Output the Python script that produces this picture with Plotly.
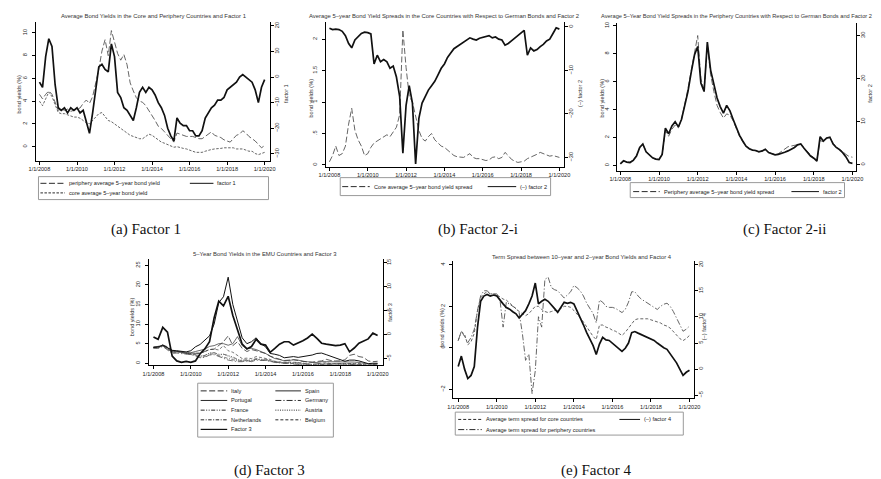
import pandas as pd
import plotly.graph_objects as go

W, H = 881, 479

# ---------------- shared axes ----------------
DATES_2M = pd.date_range("2008-01-01", "2020-01-01", freq="2MS")   # bimonthly
DATES_Q = pd.date_range("2008-01-01", "2020-01-01", freq="QS")     # quarterly
XTICK_VALS = ["2008-01-01", "2010-01-01", "2012-01-01", "2014-01-01",
              "2016-01-01", "2018-01-01", "2020-01-01"]
XTICK_TEXT = ["1/1/2008", "1/1/2010", "1/1/2012", "1/1/2014",
              "1/1/2016", "1/1/2018", "1/1/2020"]

# ---------------- panel (a) ----------------
PERIPHERY_YIELD = [
    4.6, 4.2, 4.6, 4.9, 4.6, 3.8,
    3.2, 3.3, 3.2, 3.3, 3.1, 3.2,
    3.3, 3.4, 3.8, 4.1, 3.8, 4.4,
    5.6, 6.8, 8.4, 9.4, 8.0, 10.2,
    9.2, 8.2, 7.6, 8.1, 7.2, 5.6,
    4.9, 4.3, 4.0, 3.9, 3.6, 3.2,
    2.8, 2.3, 1.8, 1.6, 1.3, 1.0,
    0.7, 0.4, 1.2, 1.1, 1.0, 0.9,
    0.9, 0.9, 0.8, 0.7, 0.7, 0.9,
    1.1, 1.3, 1.0, 0.9, 0.8, 0.6,
    0.5, 0.4, 0.7, 1.0, 1.1, 1.4,
    1.2, 0.9, 0.7, 0.5, 0.2, -0.1,
    0.1]
CORE_YIELD = [
    4.0, 3.6, 4.2, 4.8, 4.4, 3.6,
    3.0, 2.9, 2.9, 2.8, 2.7, 2.6,
    2.6, 2.5, 2.3, 2.1, 2.0, 2.3,
    2.6, 2.9, 3.0, 2.7, 2.3, 2.2,
    2.0, 1.8, 1.6, 1.4, 1.2, 1.0,
    0.9, 0.8, 0.7, 0.7, 0.9, 1.1,
    1.0, 0.8, 0.6, 0.4, 0.3, 0.2,
    0.1, -0.05, 0.0, -0.1, -0.15, -0.2,
    -0.3, -0.4, -0.5, -0.5, -0.5, -0.4,
    -0.3, -0.25, -0.2, -0.2, -0.15, -0.1,
    -0.1, -0.15, -0.1, -0.2, -0.2, -0.2,
    -0.3, -0.4, -0.4, -0.6, -0.7, -0.6,
    -0.5]
FACTOR1 = [
    -2, -4, 8, 15, 12, -3,
    -12, -13, -12, -14, -12, -13,
    -12, -14, -13, -17, -22, -14,
    -4, 4, 5, 3, 2, 13,
    8, -6, -8, -12, -13, -15,
    -17, -12, -6, -4, -6, -4,
    -5, -7, -10, -12, -15, -20,
    -23, -25, -16, -18, -19, -19,
    -21, -21, -23, -23, -21, -16,
    -14, -12, -11, -9, -9, -8,
    -5, -4, -3, -2, 0, 1,
    0, -1, -2, -5, -10, -4,
    -1]

# ---------------- panel (b) ----------------
CORE_SPREAD = [
    0.05, 0.15, 0.30, 0.15, 0.18, 0.30,
    0.65, 0.90, 0.55, 0.40, 0.30, 0.15,
    0.18, 0.28, 0.35, 0.38, 0.42, 0.45,
    0.48, 0.45, 0.52, 0.60, 0.80, 2.15,
    1.55, 1.10, 1.00, 0.80, 0.55, 0.42,
    0.38, 0.45, 0.50, 0.40, 0.35, 0.30,
    0.28, 0.24, 0.20, 0.15, 0.13, 0.12,
    0.12, 0.15, 0.18, 0.12, 0.10, 0.10,
    0.08, 0.07, 0.08, 0.12, 0.13, 0.10,
    0.12, 0.20, 0.15, 0.09, 0.06, 0.04,
    0.05, 0.06, 0.10, 0.12, 0.15, 0.17,
    0.20, 0.18, 0.15, 0.14, 0.15, 0.13,
    0.12]
NEG_FACTOR2_CORE = [
    -0.3, -0.6, -0.5, -0.6, -1.0, -2.0,
    -3.8, -4.8, -3.0, -2.2, -1.5, -1.2,
    -1.3, -1.6, -8.5, -6.5, -8.0, -7.5,
    -8.0, -9.5, -9.0, -11.5, -16.0, -29.0,
    -18.0, -13.5, -17.5, -31.5, -21.0, -17.5,
    -16.0, -14.5, -13.5, -12.5, -11.0, -9.5,
    -8.5, -7.0, -6.0, -5.0, -4.5, -4.0,
    -3.5, -3.0, -2.5, -2.8, -3.0, -2.6,
    -2.4, -2.2, -2.0, -2.5, -2.3, -2.8,
    -3.0, -4.2, -3.8, -3.2, -2.6, -2.0,
    -1.5, -0.8, -6.5, -4.8, -5.5, -5.2,
    -4.5, -4.0, -3.2, -2.8, -1.5, -0.2,
    -0.5]

# ---------------- panel (c) ----------------
PERIPHERY_SPREAD = [
    0.15, 0.35, 0.25, 0.25, 0.40, 0.70,
    1.30, 1.55, 1.00, 0.75, 0.55, 0.45,
    0.45, 0.80, 2.50, 2.10, 2.60, 2.90,
    2.70, 3.30, 4.30, 5.50, 6.80, 8.20,
    9.30, 6.20, 5.40, 8.60, 6.50, 5.30,
    4.30, 3.80, 3.40, 3.70, 3.60, 3.20,
    2.60, 2.10, 1.70, 1.40, 1.20, 1.10,
    1.05, 1.00, 1.00, 1.15, 0.95, 0.85,
    0.80, 0.85, 1.00, 1.20, 1.35, 1.40,
    1.45, 1.55, 1.55, 1.25, 1.00, 0.75,
    0.55, 0.40, 1.80, 1.70, 1.95, 2.00,
    1.60, 1.35, 1.20, 1.00, 0.80, 0.65,
    0.60]
FACTOR2 = [
    0.2, 0.9, 0.6, 0.5, 1.0, 2.0,
    4.0, 4.8, 3.0, 2.2, 1.6, 1.3,
    1.2, 2.4, 8.5, 7.2, 9.0, 10.0,
    8.8, 10.5, 13.5, 17.0, 21.5, 25.5,
    27.5, 19.0, 17.0, 28.5, 22.0, 18.5,
    15.5, 13.5, 12.0, 13.8, 12.5, 10.5,
    8.5, 6.8, 5.5, 4.3, 3.7, 3.4,
    3.3, 3.0, 3.2, 3.6, 2.8, 2.5,
    2.3, 2.4, 2.6, 2.9, 3.2, 3.6,
    4.0, 4.6, 4.8, 3.8, 3.0, 2.0,
    1.5, 0.8, 6.5, 5.5, 6.2, 6.4,
    4.8, 4.0, 3.5, 2.8, 1.8, 0.5,
    0.3]

# ---------------- panel (d) (quarterly) ----------------
ITALY = [
    4.2, 4.3, 4.7, 4.2,
    3.3, 3.0, 2.9, 2.6,
    2.5, 2.5, 2.6, 3.0,
    3.5, 3.6, 4.5, 5.5,
    7.0, 4.5, 5.5, 3.8,
    3.0, 3.5, 3.2, 2.8,
    2.5, 1.8, 1.3, 1.0,
    0.7, 0.8, 0.9, 0.7,
    0.5, 0.3, 0.3, 0.5,
    0.6, 1.0, 0.7, 0.6,
    0.6, 0.9, 2.0, 2.3,
    1.7, 1.5, 0.6, 0.4,
    0.5]
SPAIN = [
    3.9, 4.1, 4.6, 4.0,
    3.1, 3.0, 2.9, 2.6,
    2.7, 3.0, 3.3, 3.6,
    4.3, 4.5, 5.0, 5.0,
    4.6, 5.0, 6.8, 4.5,
    3.8, 3.8, 3.5, 3.0,
    2.5, 1.8, 1.2, 1.0,
    0.6, 0.7, 0.9, 0.8,
    0.5, 0.4, 0.2, 0.2,
    0.4, 0.4, 0.4, 0.3,
    0.4, 0.3, 0.4, 0.3,
    0.2, 0.0, -0.2, -0.2,
    -0.1]
PORTUGAL = [
    4.0, 4.2, 4.6, 4.0,
    3.3, 3.2, 3.0, 2.9,
    3.2, 4.2, 4.8, 6.0,
    7.0, 10.0, 15.5, 17.0,
    22.0, 15.0, 11.0, 6.5,
    5.0, 5.5, 6.5, 5.0,
    4.2, 2.5, 2.3, 2.0,
    1.4, 1.5, 1.7, 1.5,
    1.7, 2.0, 2.1, 2.5,
    2.6, 2.2, 1.8, 1.3,
    0.9, 0.5, 0.8, 0.8,
    0.6, 0.2, -0.1, 0.0,
    0.0]
GERMANY = [
    3.9, 3.8, 4.3, 3.5,
    2.5, 2.6, 2.5, 2.3,
    2.2, 1.9, 1.4, 1.5,
    2.1, 2.2, 1.7, 1.2,
    0.8, 0.6, 0.4, 0.4,
    0.6, 0.4, 0.8, 0.7,
    0.7, 0.5, 0.2, 0.1,
    0.0, 0.0, -0.1, -0.2,
    -0.3, -0.4, -0.6, -0.5,
    -0.4, -0.4, -0.3, -0.2,
    -0.2, -0.2, -0.3, -0.3,
    -0.4, -0.5, -0.8, -0.6,
    -0.5]
FRANCE = [
    4.0, 3.9, 4.4, 3.7,
    2.8, 2.8, 2.8, 2.5,
    2.4, 2.2, 1.8, 2.0,
    2.6, 2.7, 2.3, 2.3,
    2.0, 1.6, 1.0, 0.8,
    0.9, 0.8, 1.2, 1.0,
    1.0, 0.8, 0.4, 0.3,
    0.1, 0.2, 0.2, 0.1,
    0.0, -0.2, -0.3, -0.1,
    0.0, 0.0, -0.1, -0.1,
    0.0, -0.1, -0.1, -0.1,
    -0.2, -0.3, -0.5, -0.4,
    -0.3]
AUSTRIA = [
    4.0, 4.0, 4.5, 3.8,
    3.0, 3.0, 2.8, 2.6,
    2.5, 2.3, 1.8, 2.0,
    2.6, 2.7, 2.1, 2.3,
    1.8, 1.3, 0.8, 0.6,
    0.7, 0.6, 1.0, 0.8,
    0.8, 0.6, 0.3, 0.2,
    0.0, 0.1, 0.1, 0.0,
    -0.1, -0.2, -0.4, -0.3,
    -0.2, -0.2, -0.2, -0.1,
    -0.1, -0.1, -0.2, -0.2,
    -0.3, -0.4, -0.6, -0.5,
    -0.4]
NETHERLANDS = [
    4.0, 3.9, 4.4, 3.7,
    2.8, 2.9, 2.7, 2.4,
    2.3, 2.0, 1.5, 1.7,
    2.3, 2.4, 1.9, 1.5,
    1.1, 0.9, 0.6, 0.6,
    0.7, 0.6, 1.0, 0.9,
    0.8, 0.6, 0.3, 0.1,
    0.0, 0.0, -0.1, -0.1,
    -0.2, -0.3, -0.5, -0.4,
    -0.3, -0.3, -0.2, -0.2,
    -0.2, -0.2, -0.2, -0.3,
    -0.3, -0.4, -0.7, -0.5,
    -0.4]
BELGIUM = [
    4.1, 4.1, 4.6, 4.0,
    3.2, 3.1, 2.9, 2.6,
    2.6, 2.5, 2.5, 3.0,
    3.5, 3.6, 3.4, 4.5,
    3.2, 2.8, 2.0, 1.2,
    1.3, 1.2, 1.7, 1.5,
    1.3, 1.0, 0.5, 0.4,
    0.2, 0.3, 0.3, 0.2,
    0.0, -0.1, -0.3, -0.1,
    0.0, 0.1, -0.1, -0.1,
    0.0, 0.0, 0.0, 0.0,
    -0.1, -0.2, -0.5, -0.3,
    -0.2]
FACTOR3 = [
    -0.5, -1.0, 1.5, 0.5,
    -4.5, -5.5, -5.8, -5.6,
    -5.8, -5.5, -4.0, -3.0,
    -1.5, 3.5, 7.0, 6.0,
    8.0, 4.0, 1.0, -2.0,
    -3.0, -2.5, -1.0, -2.0,
    -2.2, -3.7, -2.9, -2.0,
    -1.5, -1.5, -2.2, -1.8,
    -1.3, -0.7, 0.1, -0.8,
    -1.8, -2.0, -2.1, -2.3,
    -2.2, -1.9, -3.6, -2.8,
    -1.8, -1.3, -0.9, 0.3,
    -0.2]

# ---------------- panel (e) ----------------
CORE_TERM = [
    0.35, 0.80, 0.65, 0.15, 0.30, 0.70,
    1.80, 2.40, 2.60, 2.70, 2.60, 2.60,
    2.55, 2.45, 2.35, 2.30, 2.15, 2.00,
    1.90, 1.75, 1.65, 1.55, 1.65, 1.80,
    2.00, 2.00, 1.85, 1.75, 1.70, 1.75,
    1.80, 1.80, 1.90, 2.00, 2.00, 1.95,
    1.80, 1.65, 1.45, 1.25, 1.00, 0.80,
    0.55, 0.40, 1.10, 1.10, 1.00, 0.95,
    0.85, 0.80, 0.70, 0.60, 0.75, 0.95,
    1.15, 1.35, 1.40, 1.40, 1.40, 1.40,
    1.35, 1.30, 1.25, 1.20, 1.10, 1.05,
    0.95, 0.80, 0.65, 0.45, 0.35, 0.45,
    0.60]
PERIPHERY_TERM = [
    0.35, 0.80, 0.55, 0.25, 0.50, 0.90,
    1.80, 2.50, 2.75, 2.75, 2.60, 2.60,
    2.60, 2.35, 1.00, 2.20, 2.10, 2.00,
    1.90, 1.70, 0.70, -0.60, -0.30, -2.20,
    -1.10, 1.50, 1.00, 3.30, 3.40, 2.90,
    2.80, 2.75, 2.55, 2.40, 2.55, 2.70,
    3.00, 2.90, 2.75, 2.50, 2.15, 1.90,
    1.65, 1.20, 2.30, 2.20, 2.00, 1.95,
    1.95, 1.90, 1.80, 1.70, 1.85, 2.20,
    2.70, 2.70, 2.50, 2.35, 2.25, 2.15,
    2.05, 1.95, 1.85, 2.00, 2.10, 2.15,
    2.00, 1.75, 1.45, 1.10, 0.80, 0.90,
    1.05]
NEG_FACTOR4 = [
    0.5, 2.5, 0.0, -1.8, -1.2, 0.5,
    8.0, 13.0, 14.0, 14.3, 14.0, 14.2,
    14.0, 13.2, 12.5, 11.8, 11.5, 11.0,
    10.6, 9.8, 10.5, 11.2, 12.5, 14.0,
    16.5, 12.5, 13.0, 13.4, 13.0, 12.2,
    11.6, 10.9, 11.8, 12.8, 12.6, 12.8,
    12.5, 11.3, 10.0, 8.5, 7.0, 5.8,
    4.5, 2.8, 4.8, 6.1, 5.6, 5.5,
    5.0, 4.5, 4.0, 3.4, 4.0, 5.0,
    7.0, 7.2, 6.9, 6.6, 6.3, 6.0,
    5.8, 5.5, 5.0, 4.5, 4.1, 3.8,
    3.0, 2.2, 1.2, 0.0, -1.2, -0.6,
    -0.2]

for arr in [PERIPHERY_YIELD, CORE_YIELD, FACTOR1, CORE_SPREAD, NEG_FACTOR2_CORE,
            PERIPHERY_SPREAD, FACTOR2, CORE_TERM, PERIPHERY_TERM, NEG_FACTOR4]:
    assert len(arr) == len(DATES_2M), len(arr)
for arr in [ITALY, SPAIN, PORTUGAL, GERMANY, FRANCE, AUSTRIA, NETHERLANDS, BELGIUM, FACTOR3]:
    assert len(arr) == len(DATES_Q), len(arr)


# ---------------- helpers ----------------
def px(x):
    return x / W


def py(y):
    return 1 - y / H


def fy(f):
    y = int(f)
    d = pd.Timestamp(f"{y}-01-01") + pd.Timedelta(days=(f - y) * 365.25)
    return d.strftime("%Y-%m-%d %H:%M")


FONT = "Liberation Sans"
TXT = "#222222"
FS = 5.6
TFS = 5.9
BLACK = "#111111"
GREY = "#555555"

# dash patterns
LONGDASH = "6px,2.5px"
SHORTDASH = "2.5px,1.5px"
DASH = "3px,2px"
LONGDASHDOT = "6px,2px,1.2px,2px"
DASHDOT = "3.5px,1.5px,1px,1.5px"
DASHDOTDOT = "4px,1.5px,1px,1.5px,1px,1.5px"
DOT = "1px,1.3px"

PANELS = [
    dict(x0=28, x1=267, y0=21, y1=160, xr=(2007.79, 2020.31),
         yl=(-1.23, 10.96), yr=(-32.7, 21.56),
         ylt=[0, 2, 4, 6, 8, 10], ylx=None, yrt=[-30, -20, -10, 0, 10, 20],
         title="Average Bond Yields in the Core and Periphery Countries and Factor 1",
         tx=148, ty=15, tanchor="center", tfs=TFS,
         lt=(11, 93), rt=(283, 93), rtitle="factor 1",
         cap="(a) Factor 1", cx=140, cy=229),
    dict(x0=323, x1=566, y0=21, y1=166, xr=(2007.795, 2020.26),
         yl=(-0.027, 2.275), yr=(-32.1, 1.15),
         ylt=[0, 0.5, 1, 1.5, 2], ylx=["0", ".5", "1", "1.5", "2"], yrt=[-30, -20, -10, 0],
         title="Average 5\u2013year Bond Yield Spreads in the Core Countries with Respect to German Bonds and Factor 2",
         tx=444, ty=15, tanchor="center", tfs=TFS,
         lt=(308, 97), rt=(582, 93), rtitle="(\u2013) factor 2",
         cap="(b) Factor 2-i", cx=478, cy=229),
    dict(x0=620, x1=863, y0=22, y1=170, xr=(2007.85, 2020.2),
         yl=(-0.36, 10.2), yr=(-1.39, 32.96),
         ylt=[0, 2, 4, 6, 8, 10], ylx=None, yrt=[0, 10, 20, 30],
         title="Average 5\u2013Year Bond Yield Spreads in the Periphery Countries with Respect to German Bonds and Factor 2",
         tx=601, ty=15, tanchor="left", tfs=5.65,
         lt=(604, 97), rt=(877, 93), rtitle="factor 2",
         cap="(c) Factor 2-ii", cx=790, cy=229),
    dict(x0=143, x1=381, y0=259, y1=365, xr=(2007.737, 2020.263),
         yl=(-0.51, 26.53), yr=(-6.4, 15.69),
         ylt=[0, 5, 10, 15, 20, 25], ylx=None, yrt=[-5, 0, 5, 10, 15],
         title="5\u2013Year Bond Yields in the EMU Countries and Factor 3",
         tx=261, ty=254, tanchor="center", tfs=TFS,
         lt=(127, 316), rt=(389, 312), rtitle="factor 3",
         cap="(d) Factor 3", cx=266, cy=470),
    dict(x0=453, x1=698, y0=261, y1=398, xr=(2007.745, 2020.24),
         yl=(-2.42, 4.16), yr=(-5.56, 20.63),
         ylt=[-2, 0, 2, 4], ylx=None, yrt=[-5, 0, 5, 10, 15, 20],
         title="Term Spread between 10\u2013year and 2\u2013year Bond Yields and Factor 4",
         tx=584, ty=257, tanchor="center", tfs=TFS,
         lt=(442, 327), rt=(708, 326), rtitle="(\u2013) factor 4",
         cap="(e) Factor 4", cx=598, cy=470),
]

fig = go.Figure()
layout = dict(width=W, height=H, margin=dict(l=0, r=0, t=0, b=0),
              paper_bgcolor="white", plot_bgcolor="white",
              font=dict(family=FONT, size=FS, color=TXT), showlegend=False)
annotations = []
shapes = []


def axnames(k):
    xk = "x" if k == 1 else f"x{k}"
    yl = "y" if k == 1 else f"y{k}"
    yr = f"y{k + 5}"
    return xk, yl, yr


def lname(ref):
    return ref[0] + "axis" + ref[1:]


tickfont = dict(family=FONT, size=FS, color=TXT)
for k, p in enumerate(PANELS, start=1):
    xk, ylk, yrk = axnames(k)
    layout[lname(xk)] = dict(
        domain=[px(p["x0"]), px(p["x1"])], anchor=ylk, type="date",
        range=[fy(p["xr"][0]), fy(p["xr"][1])],
        tickmode="array", tickvals=XTICK_VALS, ticktext=XTICK_TEXT,
        showline=True, linecolor="black", linewidth=1, mirror=False,
        ticks="outside", ticklen=3, tickwidth=0.8, tickcolor="black",
        showgrid=False, zeroline=False, tickfont=tickfont)
    yl = dict(
        domain=[py(p["y1"]), py(p["y0"])], anchor=xk, range=list(p["yl"]),
        tickmode="array", tickvals=p["ylt"], tickangle=-90,
        showline=True, linecolor="black", linewidth=1,
        ticks="outside", ticklen=3, tickwidth=0.8, tickcolor="black",
        ticklabelstandoff=2,
        showgrid=False, zeroline=False, tickfont=tickfont)
    if p["ylx"]:
        yl["ticktext"] = p["ylx"]
    layout[lname(ylk)] = yl
    layout[lname(yrk)] = dict(
        overlaying=ylk, side="right", anchor=xk, range=list(p["yr"]),
        tickmode="array", tickvals=p["yrt"], tickangle=-90,
        showline=True, linecolor="black", linewidth=1,
        ticks="outside", ticklen=3, tickwidth=0.8, tickcolor="black",
        ticklabelstandoff=-2,
        showgrid=False, zeroline=False, tickfont=tickfont)

    annotations.append(dict(x=px(p["tx"]), y=py(p["ty"]), xref="paper", yref="paper",
                            text=p["title"], showarrow=False, xanchor=p["tanchor"],
                            yanchor="middle", font=dict(size=p["tfs"], color="#333333")))
    annotations.append(dict(x=px(p["lt"][0]), y=py(p["lt"][1]), xref="paper", yref="paper",
                            text="bond yields (%)", showarrow=False, textangle=-90,
                            xanchor="center", yanchor="middle",
                            font=dict(size=FS, color="#333333")))
    annotations.append(dict(x=px(p["rt"][0]), y=py(p["rt"][1]), xref="paper", yref="paper",
                            text=p["rtitle"], showarrow=False, textangle=-90,
                            xanchor="center", yanchor="middle",
                            font=dict(size=FS, color="#333333")))
    annotations.append(dict(x=px(p["cx"]), y=py(p["cy"]), xref="paper", yref="paper",
                            text=p["cap"], showarrow=False, xanchor="center",
                            yanchor="middle",
                            font=dict(family="Liberation Serif", size=15, color="#111111")))


def line(x, y, k, right, color, width, dash):
    xk, ylk, yrk = axnames(k)
    fig.add_trace(go.Scatter(x=x, y=y, mode="lines", xaxis=xk,
                             yaxis=yrk if right else ylk,
                             line=dict(color=color, width=width, dash=dash),
                             hoverinfo="skip", showlegend=False))


# panel a
line(DATES_2M, CORE_YIELD, 1, False, GREY, 0.9, SHORTDASH)
line(DATES_2M, PERIPHERY_YIELD, 1, False, GREY, 0.9, LONGDASH)
line(DATES_2M, FACTOR1, 1, True, BLACK, 1.7, "solid")
# panel b
line(DATES_2M, NEG_FACTOR2_CORE, 2, True, BLACK, 1.7, "solid")
line(DATES_2M, CORE_SPREAD, 2, False, GREY, 0.9, LONGDASH)
# panel c
line(DATES_2M, PERIPHERY_SPREAD, 3, False, GREY, 0.9, LONGDASH)
line(DATES_2M, FACTOR2, 3, True, BLACK, 1.7, "solid")
# panel d
line(DATES_Q, BELGIUM, 4, False, GREY, 0.8, DASH)
line(DATES_Q, NETHERLANDS, 4, False, GREY, 0.8, DASHDOT)
line(DATES_Q, AUSTRIA, 4, False, GREY, 0.8, DOT)
line(DATES_Q, FRANCE, 4, False, GREY, 0.8, DASHDOTDOT)
line(DATES_Q, GERMANY, 4, False, GREY, 0.8, LONGDASHDOT)
line(DATES_Q, SPAIN, 4, False, "#444444", 0.8, "solid")
line(DATES_Q, ITALY, 4, False, "#333333", 0.8, LONGDASH)
line(DATES_Q, PORTUGAL, 4, False, BLACK, 1.0, "solid")
line(DATES_Q, FACTOR3, 4, True, BLACK, 1.7, "solid")
# panel e
line(DATES_2M, CORE_TERM, 5, False, GREY, 0.9, DASH)
line(DATES_2M, PERIPHERY_TERM, 5, False, GREY, 0.9, LONGDASHDOT)
line(DATES_2M, NEG_FACTOR4, 5, True, BLACK, 1.7, "solid")


# ---------------- legends (drawn as boxes with key samples) ----------------
def box(x0, x1, y0, y1):
    shapes.append(dict(type="rect", xref="paper", yref="paper",
                       x0=px(x0), x1=px(x1), y0=py(y1), y1=py(y0),
                       line=dict(color="#9a9a9a", width=1), fillcolor="white", layer="above"))


def entry(x0, x1, y, dash, width, color, text):
    shapes.append(dict(type="line", xref="paper", yref="paper",
                       x0=px(x0), x1=px(x1), y0=py(y), y1=py(y), layer="above",
                       line=dict(color=color, width=width, dash=dash)))
    annotations.append(dict(x=px(x1 + 2), y=py(y), xref="paper", yref="paper",
                            text=text, showarrow=False, xanchor="left", yanchor="middle",
                            font=dict(size=FS, color="#222222")))


# a
box(31, 265, 176, 199)
entry(33, 58, 182.7, LONGDASH, 0.9, BLACK, "periphery average 5\u2013year bond yield")
entry(185, 209, 182.7, "solid", 1.0, BLACK, "factor 1")
entry(33, 58, 192.3, SHORTDASH, 0.9, BLACK, "core average 5\u2013year bond yield")
# b
box(338, 552, 177, 195)
entry(340, 368, 186, LONGDASH, 0.9, BLACK, "Core average 5\u2013year bond yield spread")
entry(488, 517, 186, "solid", 1.0, BLACK, "(\u2013) factor 2")
# c
box(633, 851, 182, 197)
entry(636, 663, 191, LONGDASH, 0.9, BLACK, "Periphery average 5\u2013year bond yield spread")
entry(797, 825, 191, "solid", 1.0, BLACK, "factor 2")
# d
box(193, 331, 383, 437)
entry(196, 223, 390.7, LONGDASH, 0.9, BLACK, "Italy")
entry(272, 298, 390.7, "solid", 0.9, BLACK, "Spain")
entry(196, 223, 400.3, "solid", 0.9, BLACK, "Portugal")
entry(272, 298, 400.3, LONGDASHDOT, 0.9, BLACK, "Germany")
entry(196, 223, 410, DASHDOTDOT, 0.9, BLACK, "France")
entry(272, 298, 410, DOT, 0.9, BLACK, "Austria")
entry(196, 223, 419.7, DASHDOT, 0.9, BLACK, "Netherlands")
entry(272, 298, 419.7, DASH, 0.9, BLACK, "Belgium")
entry(196, 223, 429.3, "solid", 1.2, BLACK, "Factor 3")
# e
box(455, 687, 412, 435)
entry(458, 482, 419.3, DASH, 0.9, BLACK, "Average term spread for core countries")
entry(622, 643, 419.3, "solid", 1.0, BLACK, "(\u2013) factor 4")
entry(458, 482, 429.5, LONGDASHDOT, 0.9, BLACK, "Average term spread for periphery countries")

layout["annotations"] = annotations
layout["shapes"] = shapes
fig.update_layout(**layout)
fig.write_html("out.html")
